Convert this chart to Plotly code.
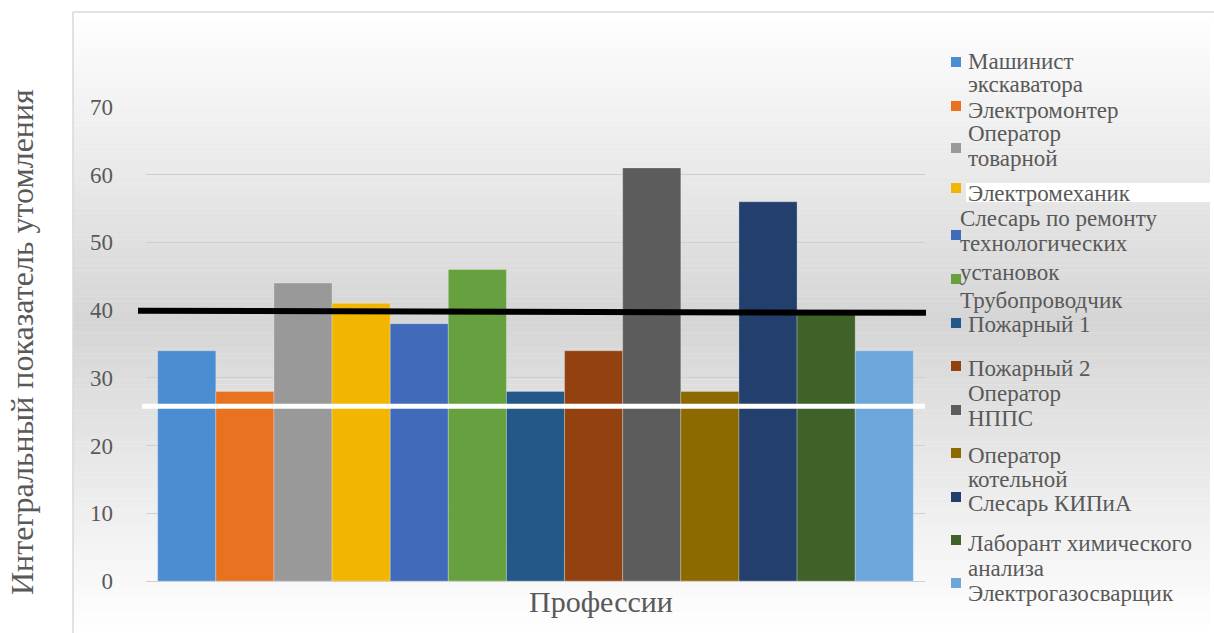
import plotly.graph_objects as go

# ---------------- data ----------------
professions = [
    "Машинист<br>экскаватора",
    "Электромонтер",
    "Оператор<br>товарной",
    "Электромеханик",
    "Слесарь по ремонту<br>технологических<br>установок",
    "Трубопроводчик",
    "Пожарный 1",
    "Пожарный 2",
    "Оператор<br>НППС",
    "Оператор<br>котельной",
    "Слесарь КИПиА",
    "Лаборант химического<br>анализа",
    "Электрогазосварщик",
]
fatigue_index = [34, 28, 44, 41, 38, 46, 28, 34, 61, 28, 56, 40, 34]
category = ["Профессии"]
y_ticks = [0, 10, 20, 30, 40, 50, 60, 70]
upper_level = [39.9, 39.6]   # black reference line (left, right)
lower_level = [25.8, 25.8]   # white reference line (left, right)

bar_colors = [
    "#4a8dd3", "#e8721f", "#999999", "#f3b600", "#406aba", "#66a03f",
    "#235889", "#93420f", "#5c5c5c", "#8c6a00", "#233f6e", "#3f6228",
    "#6da6da",
]

# ---------------- legend layout (pixel positions, style only) ----------------
legend_square_y = [62, 106, 148, 188, 235, 279, 323, 366, 410, 453, 497, 540, 583]
legend_line_y = [[61, 85], [110], [133, 158], [193], [218, 243, 272], [300],
                 [324], [368], [393, 418], [455, 479], [503], [543, 568], [593]]
legend_text_x = [966, 966, 966, 966, 958, 958, 966, 966, 966, 966, 966, 966, 966]

# ---------------- geometry helpers (pixels -> paper) ----------------
W, H = 1214, 633
L, R, T, B = 146, 925, 107, 581
PW, PH = R - L, B - T


def px_x(px):
    return (px - L) / PW


def px_y(py):
    return (B - py) / PH


FONT = "Times New Roman, Liberation Serif, DejaVu Serif, serif"
TXT = "#595959"

fig = go.Figure()
for name, val, col in zip(professions, fatigue_index, bar_colors):
    fig.add_trace(go.Bar(
        x=category, y=[val], name=name.replace("<br>", " "),
        marker=dict(color=col, line=dict(width=1, color="rgba(255,255,255,0.25)")),
        showlegend=False,
    ))

shapes = []
# background vertical gradient inside chart frame
fx0, fy0 = 73, 12
nb = 120
for i in range(nb):
    y0 = fy0 + (H - fy0) * i / nb
    y1 = fy0 + (H - fy0) * (i + 1) / nb
    yc = (y0 + y1) / 2
    t = max(0.0, 1 - abs(yc - 322) / 310)
    g = int(round(255 - 42 * t))
    shapes.append(dict(type="rect", xref="paper", yref="paper", layer="below",
                       x0=px_x(fx0), x1=px_x(1210), y0=px_y(y1), y1=px_y(y0) + 0.0005,
                       fillcolor=f"rgb({g},{g},{g})", line=dict(width=0)))
# white band in legend
shapes.append(dict(type="rect", xref="paper", yref="paper", layer="below",
                   x0=px_x(966), x1=px_x(W + 5), y0=px_y(202), y1=px_y(183),
                   fillcolor="white", line=dict(width=0)))
# chart frame
shapes.append(dict(type="line", xref="paper", yref="paper", layer="below",
                   x0=px_x(fx0), x1=px_x(W + 5), y0=px_y(fy0), y1=px_y(fy0),
                   line=dict(color="#d9d9d9", width=1.5)))
shapes.append(dict(type="line", xref="paper", yref="paper", layer="below",
                   x0=px_x(fx0), x1=px_x(fx0), y0=px_y(fy0), y1=px_y(H + 5),
                   line=dict(color="#d9d9d9", width=1.5)))
# reference lines
shapes.append(dict(type="line", xref="paper", yref="y", layer="above",
                   x0=px_x(142), x1=px_x(925), y0=lower_level[0], y1=lower_level[1],
                   line=dict(color="white", width=5)))
shapes.append(dict(type="line", xref="paper", yref="y", layer="above",
                   x0=px_x(138), x1=px_x(926), y0=upper_level[0], y1=upper_level[1],
                   line=dict(color="black", width=6)))

annotations = [
    dict(text="Интегральный показатель утомления", xref="paper", yref="paper",
         x=px_x(22), y=px_y(342), textangle=-90, showarrow=False,
         xanchor="center", yanchor="middle", font=dict(family=FONT, size=32, color=TXT)),
    dict(text="Профессии", xref="paper", yref="paper",
         x=px_x(601), y=px_y(601), showarrow=False,
         xanchor="center", yanchor="middle", font=dict(family=FONT, size=30, color=TXT)),
]

# manual legend (squares + text lines)
for name, col, sy, lys, tx in zip(professions, bar_colors, legend_square_y,
                                  legend_line_y, legend_text_x):
    shapes.append(dict(type="rect", xref="paper", yref="paper", layer="above",
                       x0=px_x(951), x1=px_x(961), y0=px_y(sy + 5), y1=px_y(sy - 5),
                       fillcolor=col, line=dict(width=0)))
    for line_text, ly in zip(name.split("<br>"), lys):
        annotations.append(dict(
            text=line_text, xref="paper", yref="paper", x=px_x(tx), y=px_y(ly),
            xanchor="left", yanchor="middle", showarrow=False,
            font=dict(family=FONT, size=23, color=TXT)))

fig.update_layout(
    width=W, height=H,
    margin=dict(l=L, r=W - R, t=T, b=H - B, autoexpand=False),
    paper_bgcolor="white",
    plot_bgcolor="rgba(0,0,0,0)",
    barmode="group",
    bargap=0.03,
    bargroupgap=0,
    font=dict(family=FONT, color=TXT),
    shapes=shapes,
    annotations=annotations,
    showlegend=False,
    xaxis=dict(showticklabels=False, showgrid=False, zeroline=False,
               showline=False, ticks="", fixedrange=True),
    yaxis=dict(range=[0, 70], tickvals=y_ticks, showgrid=True,
               gridcolor="#cfcfcf", gridwidth=1, zeroline=True,
               zerolinecolor="#cfcfcf", zerolinewidth=1, showline=False,
               ticks="", ticklabelstandoff=32,
               tickfont=dict(family=FONT, size=23, color=TXT), fixedrange=True),
)

fig.write_html("out.html", include_plotlyjs=True, config={"displayModeBar": False})
